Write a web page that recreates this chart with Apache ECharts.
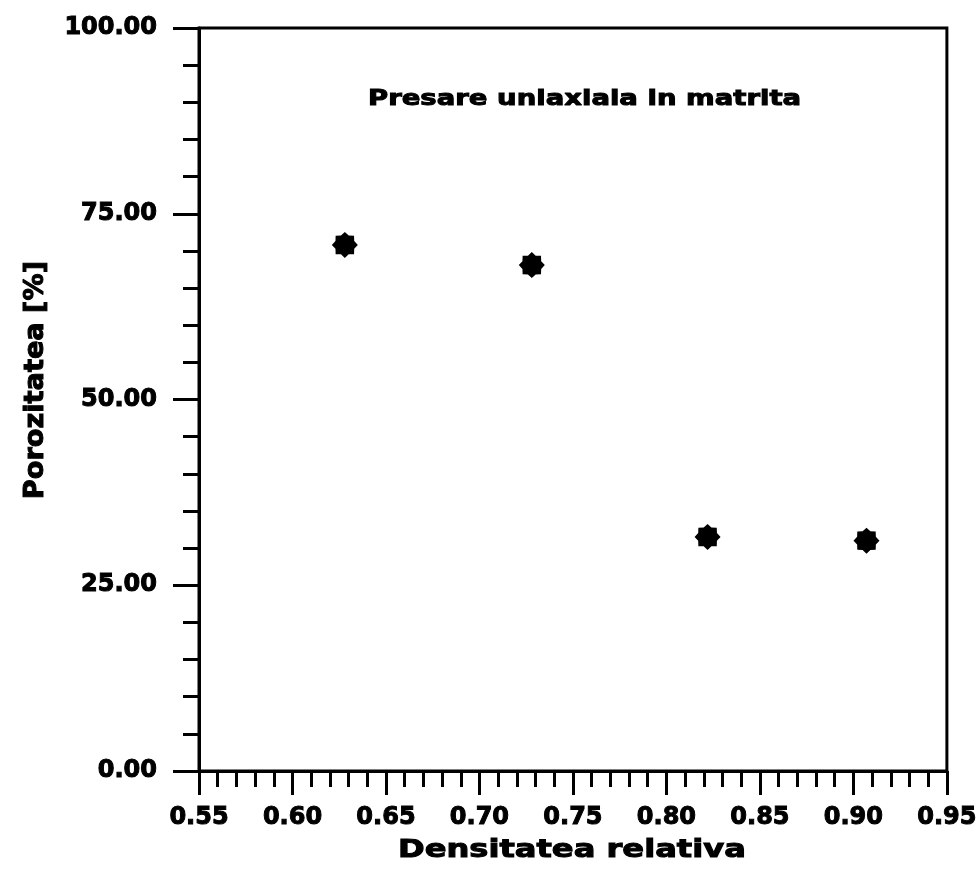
<!DOCTYPE html>
<html>
<head>
<meta charset="utf-8">
<script src="https://cdn.jsdelivr.net/npm/echarts@6/dist/echarts.min.js"></script>
<style>
  html, body { margin: 0; padding: 0; background: #fff; }
  #chart { width: 980px; height: 882px; }
</style>
</head>
<body>
<div id="chart"></div>
<script>
// Relative density vs. porosity, uniaxial die pressing
const densitate = [0.628, 0.728, 0.822, 0.907];
const porozitate = [70.8, 68.1, 31.5, 31.0];
const titluGrafic = 'Presare uniaxiala in matrita';
const titluX = 'Densitatea relativa';
const titluY = 'Porozitatea [%]';

const FONT = '"DejaVu Sans", sans-serif';
// a thin outline thickens the bold face
const heavy = { textBorderColor: '#000', textBorderWidth: 1 };

// 8-spike star marker
function starPath(spikes, inner) {
  let d = '';
  for (let i = 0; i < spikes * 2; i++) {
    const r = i % 2 === 0 ? 1 : inner;
    const a = (Math.PI * i) / spikes - Math.PI / 2;
    const x = (r * Math.cos(a)).toFixed(3);
    const y = (r * Math.sin(a)).toFixed(3);
    d += (i === 0 ? 'M' : 'L') + x + ' ' + y + ' ';
  }
  return d + 'Z';
}

const chart = echarts.init(document.getElementById('chart'), null, { renderer: 'canvas' });

chart.setOption({
  backgroundColor: '#ffffff',
  animation: false,
  grid: {
    left: 199, right: 32, top: 28, bottom: 111,
    show: true, borderColor: '#000', borderWidth: 3, backgroundColor: 'transparent'
  },
  xAxis: {
    type: 'value', min: 0.55, max: 0.95, interval: 0.05,
    axisLine: { lineStyle: { color: '#000', width: 3 } },
    axisTick: { show: true, inside: false, length: 24, lineStyle: { color: '#000', width: 3 } },
    minorTick: { show: true, splitNumber: 5, length: 16, lineStyle: { color: '#000', width: 3 } },
    splitLine: { show: false },
    axisLabel: Object.assign({
      margin: 35, color: '#000', fontFamily: FONT, fontWeight: 'bold', fontSize: 24,
      formatter: v => v.toFixed(2)
    }, heavy)
  },
  yAxis: {
    type: 'value', min: 0, max: 100, interval: 25,
    axisLine: { show: true, lineStyle: { color: '#000', width: 3 } },
    axisTick: { show: true, inside: false, length: 26, lineStyle: { color: '#000', width: 3 } },
    minorTick: { show: true, splitNumber: 5, length: 16, lineStyle: { color: '#000', width: 3 } },
    splitLine: { show: false },
    axisLabel: Object.assign({
      margin: 42, color: '#000', fontFamily: FONT, fontWeight: 'bold', fontSize: 24,
      formatter: v => v.toFixed(2)
    }, heavy)
  },
  graphic: [
    {
      type: 'text', x: 368, y: 88, scaleX: 1.25,
      style: { text: titluGrafic, fill: '#000', font: 'bold 22px ' + FONT, stroke: '#000', lineWidth: 1 }
    },
    {
      type: 'text', x: 398, y: 838, scaleX: 1.285,
      style: { text: titluX, fill: '#000', font: 'bold 25px ' + FONT, stroke: '#000', lineWidth: 1 }
    },
    {
      type: 'text', x: 36, y: 380, rotation: Math.PI / 2, scaleX: 1.045,
      style: {
        text: titluY, fill: '#000', font: 'bold 26px ' + FONT,
        align: 'center', verticalAlign: 'middle', stroke: '#000', lineWidth: 1
      }
    }
  ],
  series: [{
    type: 'scatter',
    data: densitate.map((d, i) => [d, porozitate[i]]),
    symbol: 'path://' + starPath(8, 0.78),
    symbolSize: 26,
    itemStyle: { color: '#000', opacity: 1 }
  }]
});
</script>
</body>
</html>
